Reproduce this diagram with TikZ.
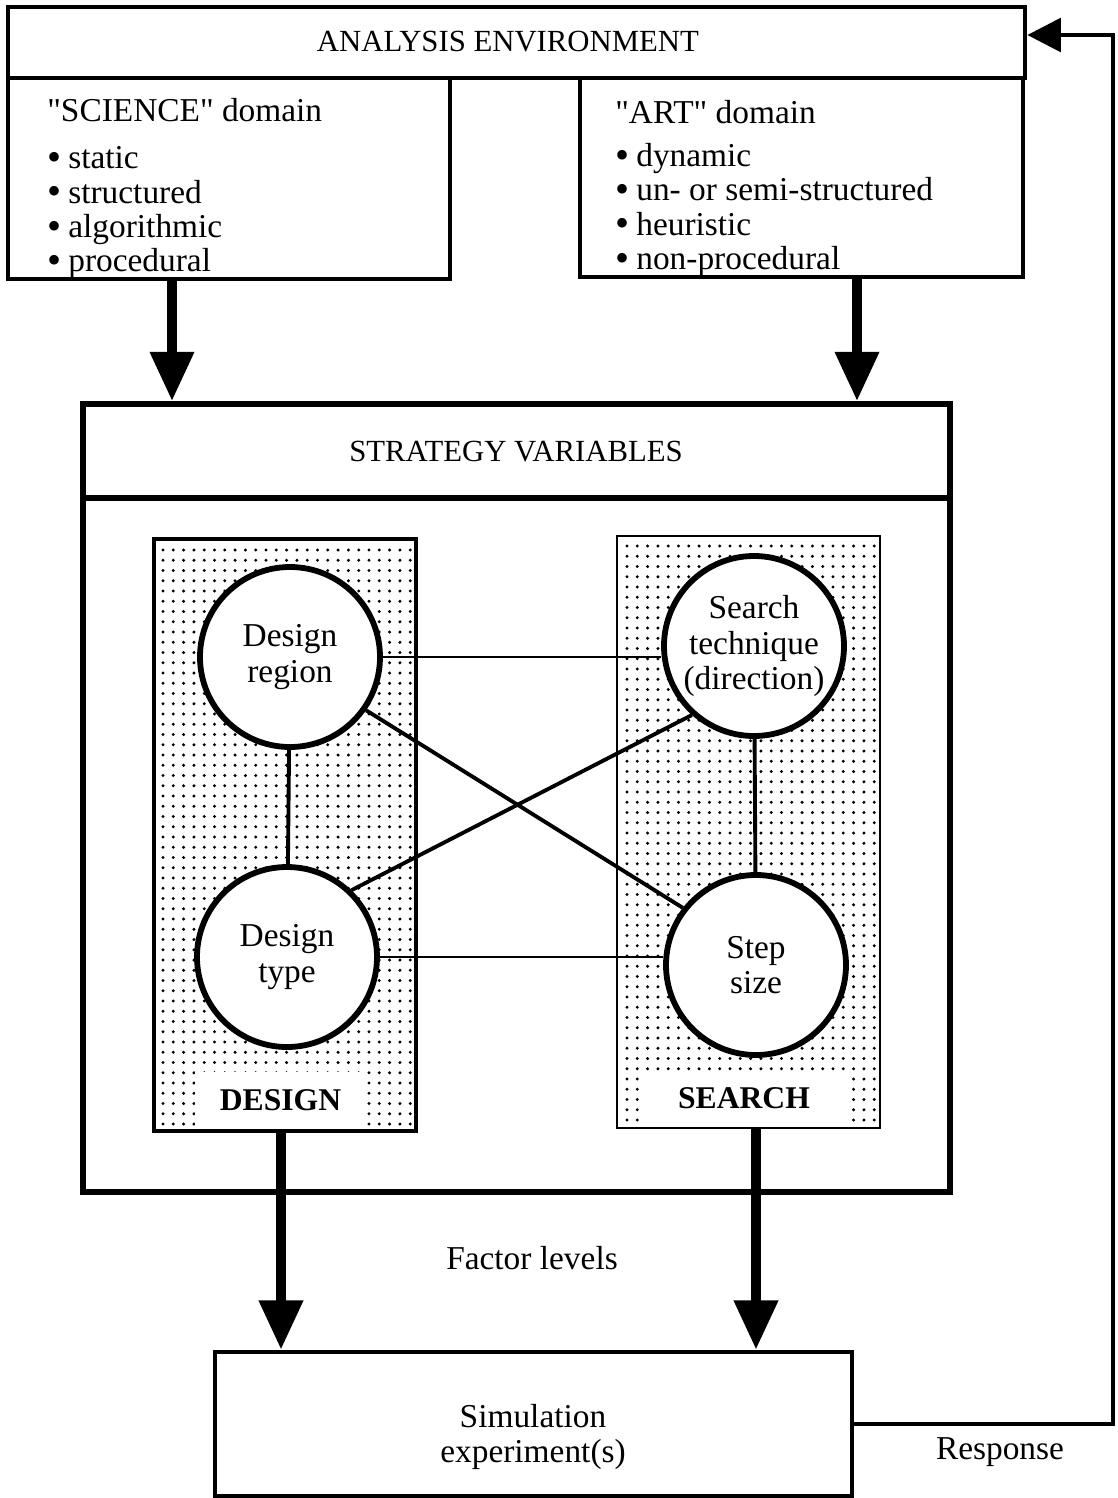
\documentclass[tikz,border=0pt]{standalone}
\usepackage{fontspec}
\setmainfont{Liberation Serif}
\newfontfamily\plainfont{Liberation Serif}
\usetikzlibrary{arrows.meta}
\def\pxu{0.02cm}
\newcommand\bul{\makebox[0.42cm][l]{\raisebox{-0.05em}{\scalebox{1.2}{\textbullet}}}}
\newcommand\dq{{\plainfont"}}
\tikzset{
  boxframe/.style={draw, line width=2.7pt, inner sep=0pt},
  stratframe/.style={draw, line width=3.4pt, inner sep=0pt},
  panel/.style={draw, line width=1.6pt, inner sep=0pt},
  varcirc/.style={circle, draw, line width=3.3pt, fill=white, inner sep=0pt,
    minimum size=180*\pxu, align=center, font=\fontsize{19}{20.3}\selectfont},
  caps/.style={inner sep=0pt, font=\fontsize{17.5}{19.5}\selectfont},
  txt/.style={inner sep=0pt, font=\fontsize{19}{19.5}\selectfont},
  itemlist/.style={inner sep=0pt, anchor=north west, align=left,
    font=\fontsize{19}{19.5}\selectfont},
  tag/.style={fill=white, inner sep=0pt, font=\fontsize{18}{19}\selectfont\bfseries},
  link/.style={line width=1.5pt},
  diag/.style={line width=2.2pt},
  bigarrow/.style={line width=5.5pt, -{Triangle[width=24pt,length=28pt]}},
  resp/.style={line width=2.4pt, -{Triangle[width=19pt,length=19pt]}},
}
\begin{document}
\begin{tikzpicture}[x=0.02cm, y=-0.02cm]
\useasboundingbox (0,0) rectangle (1117,1498);

% top: analysis environment and its two domains
\node[boxframe, minimum width=1017*\pxu, minimum height=71*\pxu] (env) at (516.5,42.5) {};
\node[caps] (envlbl) at (508,42) {ANALYSIS ENVIRONMENT};
\node[boxframe, minimum width=442*\pxu, minimum height=201*\pxu] (sci) at (229,178.5) {};
\node[boxframe, minimum width=443*\pxu, minimum height=199*\pxu] (art) at (801.5,177.5) {};

\node[itemlist] (scilist) at (47,98) {\dq SCIENCE\dq\ domain\\[7.5pt]
  \bul static\\ \bul structured\\ \bul algorithmic\\ \bul procedural};
\node[itemlist] (artlist) at (615,100) {\dq ART\dq\ domain\\[5pt]
  \bul dynamic\\ \bul un- or semi-structured\\ \bul heuristic\\ \bul non-procedural};

% strategy variables frame
\node[stratframe, minimum width=867*\pxu, minimum height=788*\pxu] (strat) at (516.5,798) {};
\coordinate (hl) at (0,498);
\draw[line width=3.4pt] (strat.west |- hl) -- (strat.east |- hl);
\node[caps] (stratlbl) at (516,452) {STRATEGY VARIABLES};

% dotted panels
\node[panel, minimum width=260*\pxu, minimum height=590*\pxu] (dp) at (285,835) {};
\node[panel, minimum width=263*\pxu, minimum height=592*\pxu] (sp) at (748.5,832) {};
\begin{scope}
  \clip (dp.south west) rectangle (dp.north east);
  \foreach \i in {0,...,24}
    \foreach \j in {0,...,56}
      \fill (163+\i*10.3, 550+\j*10.25) circle (0.033cm);
\end{scope}
\begin{scope}
  \clip (sp.south west) rectangle (sp.north east);
  \foreach \i in {0,...,24}
    \foreach \j in {0,...,56}
      \fill (627+\i*10.3, 546+\j*10.25) circle (0.033cm);
\end{scope}
\node[tag, minimum width=172*\pxu, minimum height=56*\pxu] (dtag) at (280.5,1100) {DESIGN};
\node[tag, minimum width=208*\pxu, minimum height=48*\pxu] (stag) at (744,1098) {SEARCH};
\draw[line width=1.6pt] (dp.south west) rectangle (dp.north east);

% strategy variable circles
\node[varcirc] (dr) at (290,657) {Design\\region};
\node[varcirc] (dt) at (287,957) {Design\\type};
\node[varcirc] (st) at (754,646) {Search\\technique\\(direction)};
\node[varcirc] (ss) at (756,965) {Step\\size};

% links between the variables
\draw[link] (dr.east) -- (dr.east -| st.west);
\draw[link] (dt.east) -- (dt.east -| ss.west);
\draw[diag] (dr) -- (dt);
\draw[diag] (st) -- (ss);
\draw[diag] (dr.325) -- (ss.142);
\draw[diag] (dt.46) -- (st.228);

% domains feed the strategy variables
\coordinate (ax1) at (172,0);
\coordinate (ax2) at (857,0);
\draw[bigarrow] (sci.south -| ax1) -- (strat.north -| ax1);
\draw[bigarrow] (art.south -| ax2) -- (strat.north -| ax2);

% simulation
\node[boxframe, minimum width=637*\pxu, minimum height=144*\pxu] (sim) at (533.5,1424) {};
\node[txt, align=center] (simlbl) at (533,1437) {Simulation\\[0.5pt]experiment(s)};

\coordinate (bx1) at (281,0);
\coordinate (bx2) at (756,0);
\draw[bigarrow] (dp.south -| bx1) -- (sim.north -| bx1);
\draw[bigarrow] (sp.south -| bx2) -- (sim.north -| bx2);
\node[txt] (factor) at (532,1258) {Factor levels};

% response feedback
\coordinate (rt) at (1113,35);
\draw[resp] (sim.east) -- (sim.east -| rt) -- (rt) -- (env.east |- rt);
\node[txt] (resplbl) at (1000,1452) {Response};
\end{tikzpicture}
\end{document}
